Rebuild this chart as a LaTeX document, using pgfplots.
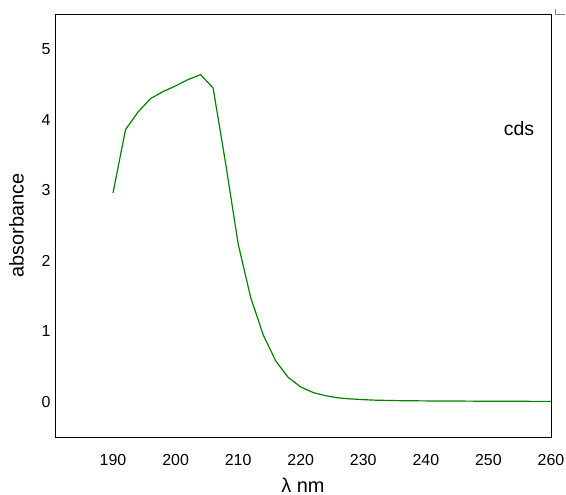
\documentclass[border=0pt]{standalone}
\usepackage{fontspec}
\setmainfont{Liberation Sans}
\usepackage{pgfplots}
\pgfplotsset{compat=1.18}
\definecolor{specgreen}{RGB}{0,130,0}
\begin{document}
\begin{tikzpicture}
\begin{axis}[
    scale only axis,
    width=496bp, height=423bp,
    xmin=180.73, xmax=260,
    ymin=-0.5, ymax=5.5,
    xtick={190,200,...,260},
    ytick={0,1,2,3,4,5},
    major tick length=0pt,
    axis line style={black, line width=0.9pt},
    tick label style={font=\fontsize{16}{18}\selectfont},
    /pgf/number format/assume math mode=true,
    xticklabel style={yshift=-14bp},
    yticklabel style={xshift=-1bp},
    xlabel={λ nm},
    ylabel={absorbance},
    label style={font=\fontsize{20}{22}\selectfont},
    xlabel style={yshift=-5bp},
    ylabel style={yshift=11bp},
    clip=false,
]
\addplot[specgreen, line width=1.2pt, line join=round] coordinates {
    (190,2.96) (192,3.86) (194,4.11) (196,4.30) (198,4.40) (200,4.48)
    (202,4.57) (204,4.64) (206,4.45) (208,3.38) (210,2.24) (212,1.48)
    (214,0.95) (216,0.58) (218,0.345) (220,0.21) (222,0.13) (224,0.085)
    (226,0.055) (228,0.04) (230,0.03) (232,0.022) (236,0.015) (240,0.012)
    (245,0.01) (250,0.007) (255,0.006) (260,0.005)
};
\node[font=\fontsize{19.5}{21}\selectfont] at (axis cs:254.9,3.88) {cds};
\coordinate (sw) at (rel axis cs:0,0);
\coordinate (ne) at (rel axis cs:1,1);
\end{axis}
\draw[gray, line width=0.8pt] ([shift={(4bp,5bp)}]ne) -- ([shift={(4bp,0bp)}]ne) -- ([shift={(14bp,0bp)}]ne);
\pgfresetboundingbox
\path ([shift={(-55bp,-58bp)}]sw) rectangle ([shift={(15bp,14bp)}]ne);
\end{tikzpicture}
\end{document}
